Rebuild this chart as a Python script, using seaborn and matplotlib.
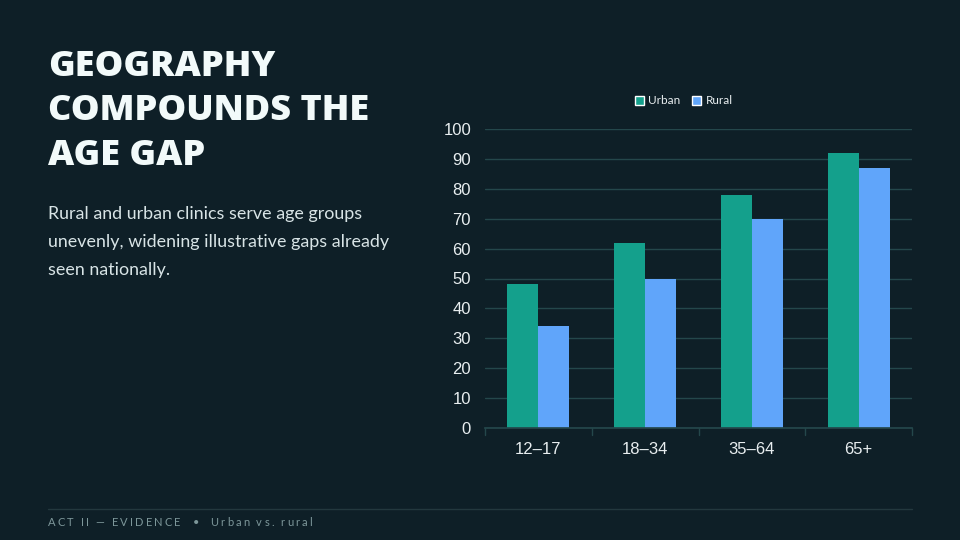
import matplotlib
matplotlib.use("Agg")
import matplotlib.pyplot as plt
import seaborn as sns
import pandas as pd
from matplotlib.patches import Patch

categories = ["12–17", "18–34", "35–64", "65+"]
urban = [48, 62, 78, 92]
rural = [34, 50, 70, 87]
series_names = ["Urban", "Rural"]
yticks = [0, 10, 20, 30, 40, 50, 60, 70, 80, 90, 100]

BG = "#0e1f27"
GRID = "#24474b"
C_URBAN = "#14a08c"
C_RURAL = "#60a5fa"

df = pd.DataFrame({
    "age": categories * 2,
    "value": urban + rural,
    "series": [series_names[0]] * 4 + [series_names[1]] * 4,
})

sns.set_theme(style="dark")
fig = plt.figure(figsize=(9.6, 5.4), dpi=100)
fig.patch.set_facecolor(BG)

W, H = 960, 540
ax = fig.add_axes([485 / W, 1 - 428 / H, (912 - 485) / W, (428 - 129) / H])
ax.set_facecolor(BG)
sns.barplot(data=df, x="age", y="value", hue="series", order=categories,
            hue_order=series_names, palette=[C_URBAN, C_RURAL], width=0.58,
            saturation=1, ax=ax, legend=False)
for p in ax.patches:
    p.set_edgecolor("none")
ax.set_xlim(-0.5, 3.5)
ax.set_ylim(0, 100)
ax.set_yticks(yticks)
ax.set_yticklabels([str(t) for t in yticks], fontsize=12, color="#e8eef0",
                   family="Liberation Sans")
ax.set_xticks(range(len(categories)))
ax.set_xticklabels(categories, fontsize=12, color="#e8eef0", family="Liberation Sans")
ax.tick_params(axis="x", length=0, pad=10)
ax.tick_params(axis="y", length=0, pad=10)
for b in [-0.5, 0.5, 1.5, 2.5, 3.5]:
    ax.plot([b, b], [0, -2.2], color=GRID, lw=1, clip_on=False)
ax.yaxis.grid(True, color=GRID, lw=1)
ax.xaxis.grid(False)
ax.set_axisbelow(True)
for s in ["top", "right", "left"]:
    ax.spines[s].set_visible(False)
ax.spines["bottom"].set_color(GRID)
ax.set_xlabel("")
ax.set_ylabel("")

# legend
handles = [Patch(facecolor=C_URBAN, label=series_names[0]),
           Patch(facecolor=C_RURAL, label=series_names[1])]
leg = fig.legend(handles=handles, loc="center", bbox_to_anchor=(684 / W, 1 - 101 / H),
                 ncol=2, frameon=False, handlelength=0.7, handleheight=0.7,
                 handletextpad=0.4, columnspacing=1.0, prop={"family": "Lato", "size": 8.5})
for t in leg.get_texts():
    t.set_color("#e8eef0")

# title
title_lines = ["GEOGRAPHY", "COMPOUNDS THE", "AGE GAP"]
for i, line in enumerate(title_lines):
    fig.text(48 / W, 1 - (67 + i * 44.5) / H, line, fontsize=26, fontweight="heavy",
             family="Open Sans", color="#f2fafa", va="center", ha="left")

body = ["Rural and urban clinics serve age groups",
        "unevenly, widening illustrative gaps already",
        "seen nationally."]
for i, line in enumerate(body):
    fig.text(48 / W, 1 - (214 + i * 28) / H, line, fontsize=12.9, family="Lato",
             color="#d8e4e6", va="center", ha="left")

# footer
fig.add_artist(plt.Line2D([48 / W, 912 / W], [1 - 509 / H, 1 - 509 / H],
                          color="#23383e", lw=1))
footer = "ACT II — EVIDENCE  •  Urban vs. rural"
renderer = fig.canvas.get_renderer()
x = 48.0
spacing = 2.2
for ch in footer:
    t = fig.text(x / W, 1 - 523 / H, ch, fontsize=8, family="Lato",
                 color="#7d979a", va="center", ha="left")
    if ch == " ":
        w = 2.5
    else:
        w = t.get_window_extent(renderer=renderer).width
    x += w + spacing

fig.savefig("out.png", dpi=100, facecolor=BG)
